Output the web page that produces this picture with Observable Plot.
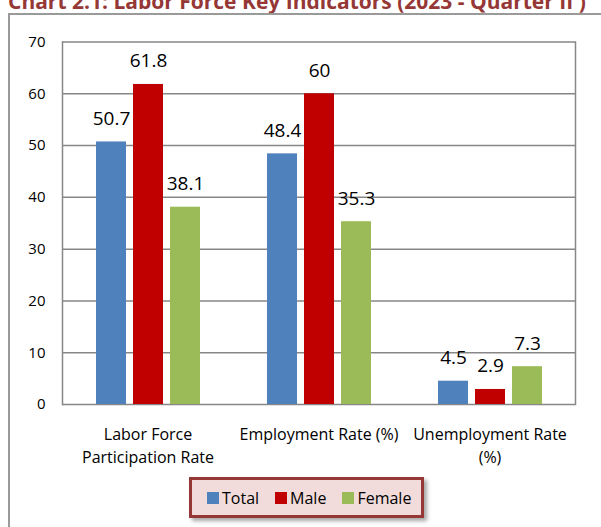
<!DOCTYPE html>
<html>
<head>
<meta charset="utf-8">
<script src="https://cdn.jsdelivr.net/npm/d3@7"></script>
<script src="https://cdn.jsdelivr.net/npm/@observablehq/plot@0.6"></script>
<style>
  html, body { margin: 0; padding: 0; background: #fff; }
  body { width: 601px; height: 527px; position: relative; overflow: hidden; font-family: "Open Sans", sans-serif; }
  #title { position: absolute; left: 8px; top: -9.5px; white-space: nowrap; font-weight: bold; font-size: 21px; line-height: 21px; color: #953735; }
  #box { position: absolute; left: 8px; top: 13px; width: 700px; height: 700px; border: 2px solid #9a9a9a; box-sizing: border-box; }
  #chart { position: absolute; left: 0; top: 0; }
  #legend { position: absolute; left: 189px; top: 477px; width: 235px; height: 41px; box-sizing: border-box;
            border: 3px solid #953735; background: #f2dcdb; box-shadow: 3px 3px 4px rgba(0,0,0,0.35);
            display: flex; align-items: center; padding-left: 15px; font-size: 16px; color: #000; }
  .item { display: flex; align-items: center; margin-right: 16px; }
  .sw { width: 12px; height: 12px; margin-right: 3px; }
</style>
</head>
<body>
<div id="title">Chart 2.1: Labor Force Key Indicators (2023 - Quarter II )</div>
<div id="box"></div>
<div id="chart"></div>
<div id="legend"></div>
<script>
const categories = ["Labor Force Participation Rate", "Employment Rate (%)", "Unemployment Rate (%)"];
const categoryLabels = ["Labor Force\nParticipation Rate", "Employment Rate (%)", "Unemployment Rate\n(%)"];
const series = ["Total", "Male", "Female"];
const totalValues = [50.7, 48.4, 4.5];
const maleValues = [61.8, 60, 2.9];
const femaleValues = [38.1, 35.3, 7.3];
const seriesColors = ["#4f81bd", "#c00000", "#9bbb59"];
const yTicks = [0, 10, 20, 30, 40, 50, 60, 70];

const valuesBySeries = [totalValues, maleValues, femaleValues];
const data = [];
categories.forEach((c, i) => {
  series.forEach((s, j) => data.push({category: c, series: s, value: valuesBySeries[j][i]}));
});
const labelOf = new Map(categories.map((c, i) => [c, categoryLabels[i]]));

const chart = Plot.plot({
  width: 601,
  height: 470,
  marginLeft: 62,
  marginRight: 26,
  marginTop: 41.5,
  marginBottom: 66,
  style: {fontFamily: "Open Sans, sans-serif", fontSize: "15px", color: "#000", background: "transparent"},
  fx: {domain: categories, padding: 0, label: null},
  x: {domain: series, paddingInner: 0.2, paddingOuter: 0.89, axis: null},
  y: {domain: [0, 70], label: null},
  color: {domain: series, range: seriesColors},
  marks: [
    Plot.gridY(yTicks, {stroke: "#878787", strokeOpacity: 1, strokeWidth: 1.5}),
    Plot.frame({anchor: "left", facetAnchor: "left", stroke: "#878787", strokeWidth: 1.5}),
    Plot.frame({anchor: "right", facetAnchor: "right", stroke: "#878787", strokeWidth: 1.5}),
    Plot.axisY(yTicks, {tickSize: 0, tickPadding: 17, fontSize: 15, label: null}),
    Plot.axisFx({anchor: "bottom", tickSize: 0, tickPadding: 19, fontSize: 16, lineHeight: 1.45, label: null,
                 tickFormat: d => labelOf.get(d)}),
    Plot.barY(data, {fx: "category", x: "series", y: "value", fill: "series"}),
    Plot.text(data, {fx: "category", x: "series", y: "value", text: d => String(d.value),
                     lineAnchor: "bottom", dy: -17, fontSize: 19, fill: "#000"})
  ]
});
document.getElementById("chart").appendChild(chart);

const legend = document.getElementById("legend");
series.forEach((s, i) => {
  const item = document.createElement("div");
  item.className = "item";
  const sw = document.createElement("div");
  sw.className = "sw";
  sw.style.background = seriesColors[i];
  const t = document.createElement("span");
  t.textContent = s;
  item.appendChild(sw);
  item.appendChild(t);
  legend.appendChild(item);
});
</script>
</body>
</html>
